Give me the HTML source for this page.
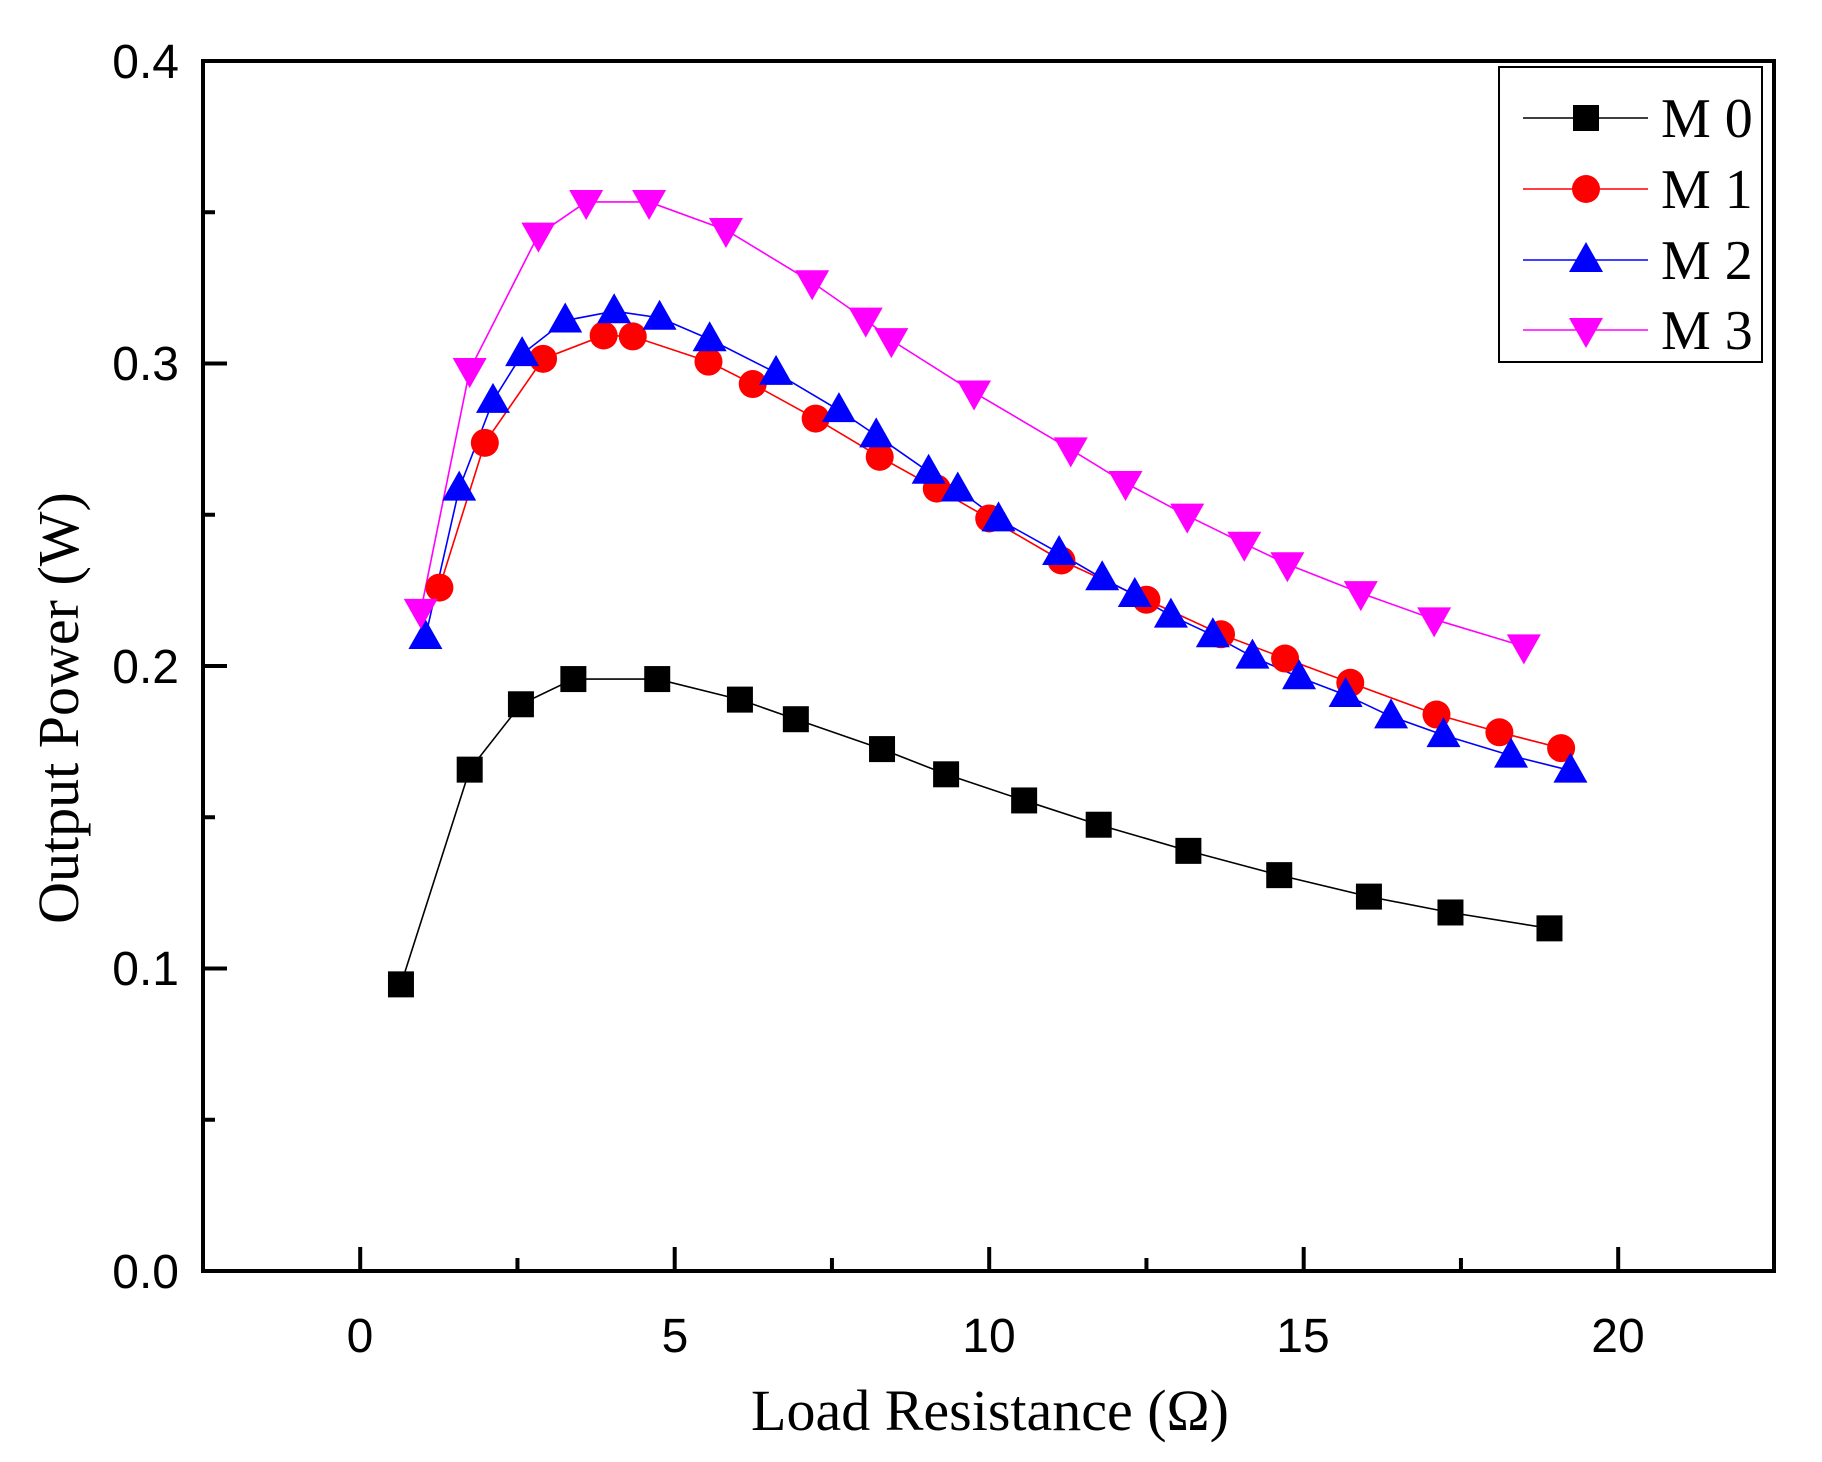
<!DOCTYPE html>
<html><head><meta charset="utf-8"><style>html,body{margin:0;padding:0;background:#fff}svg{display:block}</style></head>
<body>
<svg id="s" width="1822" height="1462" xmlns="http://www.w3.org/2000/svg">
<rect width="1822" height="1462" fill="#fff"/>
<g id="series"></g>
<rect x="203" y="61" width="1571" height="1210" fill="none" stroke="#000" stroke-width="4"/>
<g id="ticks" stroke="#000" stroke-width="4"></g>
<g font-family="Liberation Sans, Arial, sans-serif" font-size="48" fill="#000">
<text x="179" y="78" text-anchor="end">0.4</text>
<text x="179" y="380" text-anchor="end">0.3</text>
<text x="179" y="683" text-anchor="end">0.2</text>
<text x="179" y="985" text-anchor="end">0.1</text>
<text x="179" y="1288" text-anchor="end">0.0</text>
<text x="360" y="1352" text-anchor="middle">0</text>
<text x="675" y="1352" text-anchor="middle">5</text>
<text x="989" y="1352" text-anchor="middle">10</text>
<text x="1303" y="1352" text-anchor="middle">15</text>
<text x="1618" y="1352" text-anchor="middle">20</text>
</g>
<g font-family="Liberation Serif, Times New Roman, serif" font-size="58" fill="#000">
<text x="990" y="1430" text-anchor="middle">Load Resistance (Ω)</text>
<text transform="translate(78,708) rotate(-90)" text-anchor="middle">Output Power (W)</text>
</g>
<rect x="1499" y="67" width="263" height="295" fill="#fff" stroke="#000" stroke-width="2"/>
<g font-family="Liberation Serif, Times New Roman, serif" font-size="56" fill="#000">
<text x="1661" y="137">M 0</text>
<text x="1661" y="208">M 1</text>
<text x="1661" y="279">M 2</text>
<text x="1661" y="349">M 3</text>
</g>
<g id="leg"></g>
</svg>
<script>
var NS="http://www.w3.org/2000/svg";
function el(p,t,a){var e=document.createElementNS(NS,t);for(var k in a)e.setAttribute(k,a[k]);p.appendChild(e);return e;}
var tk=document.getElementById('ticks');
for(var i=0;i<8;i++){var y=1271-i*151.25;var L=(i%2==0)?24:12;if(i>0)el(tk,'line',{x1:203,y1:y,x2:203+L,y2:y});}
for(var i=0;i<9;i++){var x=360.2+i*2.5*62.9;var L=(i%2==0)?24:13;el(tk,'line',{x1:x,y1:1271,x2:x,y2:1271-L});}
function X(d){return 360.2+(d-311)*62.9/54;}
function Y(d){return 1271-(1362-d)*3025/3240;}
var S=[
{c:'#000',m:'sq',p:[[346,1055],[405,825],[449,755],[494,728],[566,728],[637,750],[685,771],[759,803],[814,830],[881,858],[945,884],[1022,912],[1100,938],[1177,961],[1247,978],[1332,995]]},
{c:'#ff0000',m:'ci',p:[[379,630],[418,475],[468,385],[520,360],[545,361],[610,388],[648,412],[702,449],[757,490],[806,524],[851,556],[913,601],[986,643],[1050,680],[1105,706],[1161,732],[1235,766],[1289,785],[1342,802]]},
{c:'#0000ff',m:'up',p:[[367,683],[396,524],[425,430],[450,380],[487,344],[529,334],[568,341],[611,364],[668,400],[722,440],[754,467],[799,506],[824,525],[859,557],[911,593],[948,620],[976,638],[1007,660],[1043,681],[1077,704],[1117,726],[1157,745],[1196,768],[1241,788],[1299,810],[1350,826]]},
{c:'#ff00ff',m:'dn',p:[[363,655],[405,397],[464,252],[505,217],[559,217],[625,247],[699,303],[745,343],[767,365],[838,421],[921,482],[968,518],[1021,553],[1070,583],[1107,605],[1170,636],[1233,664],[1310,693]]}];
function mk(g,m,x,y,c){
 if(m=='sq')el(g,'rect',{x:x-13,y:y-13,width:26,height:26,fill:c});
 else if(m=='ci')el(g,'circle',{cx:x,cy:y,r:14,fill:c});
 else if(m=='up')el(g,'polygon',{points:(x-17)+','+(y+12)+' '+(x+17)+','+(y+12)+' '+x+','+(y-18),fill:c});
 else el(g,'polygon',{points:(x-17)+','+(y-12)+' '+(x+17)+','+(y-12)+' '+x+','+(y+18),fill:c});
}
var sg=document.getElementById('series');
S.forEach(function(s){
 var pts=s.p.map(function(q){return [X(q[0]),Y(q[1])];});
 el(sg,'polyline',{points:pts.map(function(q){return q.join(',')}).join(' '),fill:'none',stroke:s.c,'stroke-width':1.6});
});
S.forEach(function(s){s.p.forEach(function(q){mk(sg,s.m,X(q[0]),Y(q[1]),s.c);});});
var lg=document.getElementById('leg');var ly=[118,189,260,330];
S.forEach(function(s,i){el(lg,'line',{x1:1523,y1:ly[i],x2:1648,y2:ly[i],stroke:s.c,'stroke-width':1.6});mk(lg,s.m,1586,ly[i],s.c);});
</script>
</body></html>
